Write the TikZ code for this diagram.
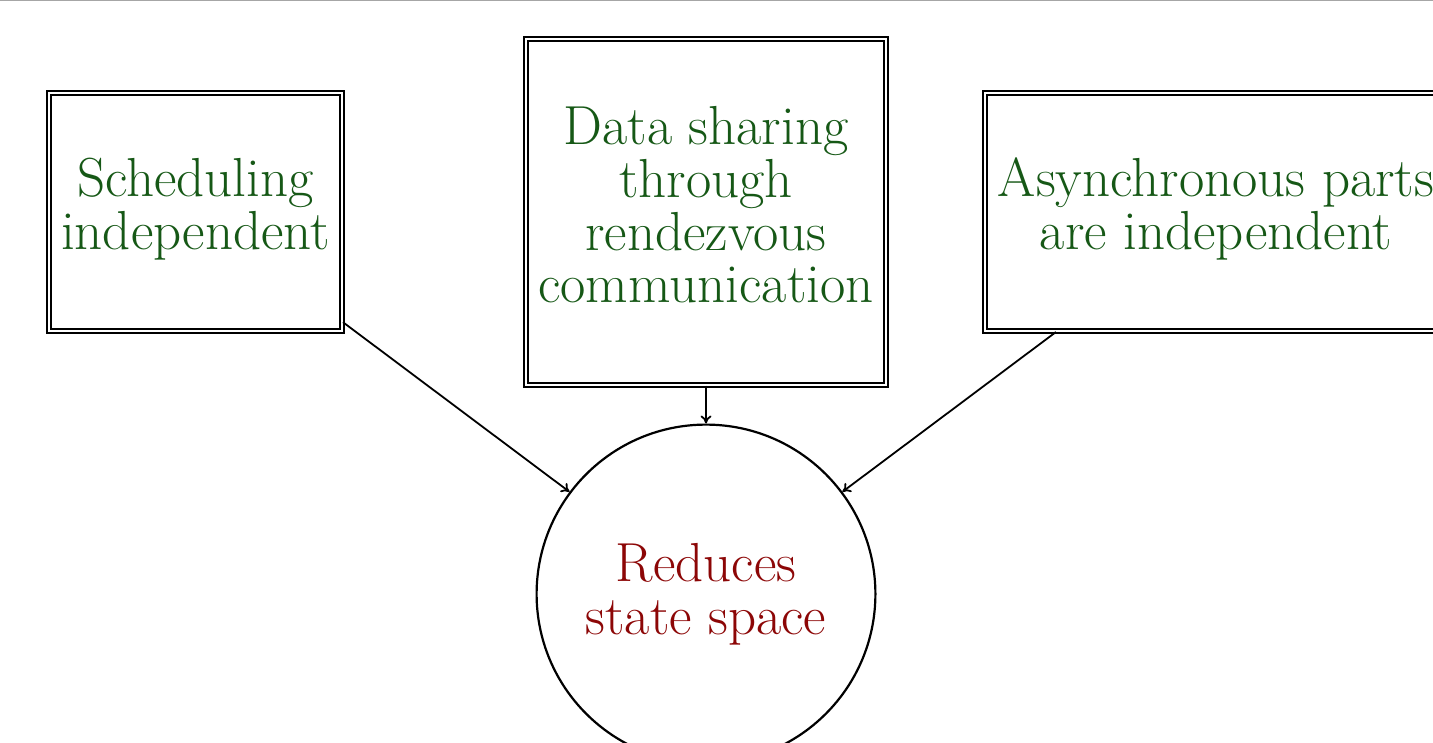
\documentclass[tikz,border=0pt]{standalone}
\usetikzlibrary{arrows.meta}
\definecolor{boxgreen}{RGB}{22,88,22}
\definecolor{circred}{RGB}{140,6,6}
\begin{document}
\begin{tikzpicture}[x=0.5pt,y=-0.5pt,
  txt/.style={font=\fontsize{27.5}{26.3}\selectfont, align=center},
  boxtxt/.style={txt, text=boxgreen, inner sep=0pt},
  dbox/.style={draw, double, line width=1pt, double distance=1pt, inner sep=0pt},
  goal/.style={txt, draw, circle, line width=1.1pt, text=circred, inner sep=0pt,
    minimum size=169.4pt},
  conn/.style={line width=0.9pt, -{To[length=4pt,width=5.5pt]}}]
\useasboundingbox (0,0) rectangle (1433,743);
\clip (0,0) rectangle (1433,743);
\draw[line width=0.6pt, gray!70] (0,0.6) -- (1433,0.6);
\node[dbox, minimum width=146.5pt, minimum height=119pt,
  label={[boxtxt, yshift=1.5pt]center:Scheduling\\independent}] (sched) at (195.5,212) {};
\node[dbox, minimum width=180pt, minimum height=172.5pt,
  label={[boxtxt, yshift=3.5pt]center:Data sharing\\through\\rendezvous\\communication}] (data) at (706,212) {};
\node[dbox, minimum width=231pt, minimum height=119pt,
  label={[boxtxt, yshift=1.5pt]center:Asynchronous parts\\are independent}] (async) at (1216,212) {};
\node[goal] (red) at (706,594) {Reduces\\state space};
\draw[conn] (sched) -- (red);
\draw[conn] (data) -- (red);
\draw[conn] (async) -- (red);
\end{tikzpicture}
\end{document}
